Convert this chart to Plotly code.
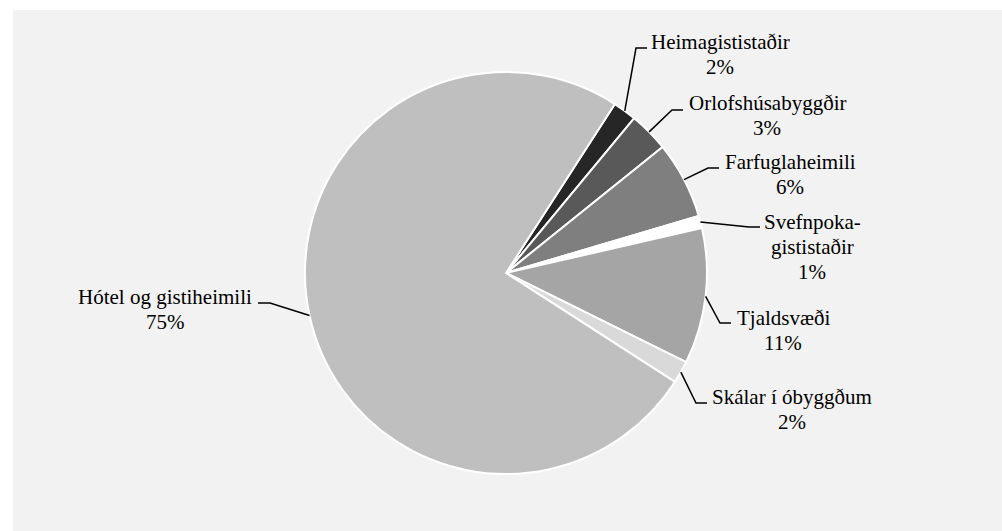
import math
import plotly.graph_objects as go

# Gistinætur eftir tegund gististaðar (hlutfall)
labels = ["Heimagististaðir", "Orlofshúsabyggðir", "Farfuglaheimili",
          "Svefnpoka-<br>gististaðir", "Tjaldsvæði", "Skálar í óbyggðum",
          "Hótel og gistiheimili"]
values = [1.9, 3.2, 6.2, 1.0, 10.9, 1.8, 75.0]
colors = ["#262626", "#595959", "#7f7f7f", "#ffffff", "#a5a5a5", "#d9d9d9", "#bfbfbf"]

W, H = 1002, 531
CX, CY, R = 506, 273, 201
ROTATION = 32.8
LINE_H = 25
FONT = dict(family="Liberation Serif, Times New Roman, serif", size=21, color="black")

# label placement (pixels): text centre x, first line y, end of leader line
label_pos = {
    "Heimagististaðir": (720, 42, 647, 48),
    "Orlofshúsabyggðir": (767, 103, 683, 110),
    "Farfuglaheimili": (790, 162, 719, 168),
    "Svefnpoka-<br>gististaðir": (812, 222, 760, 227),
    "Tjaldsvæði": (783, 318, 731, 323),
    "Skálar í óbyggðum": (792, 397, 707, 403),
    "Hótel og gistiheimili": (165, 297, 258, 303),
}


def px(x):
    return x / W


def py(y):
    return 1 - y / H


fig = go.Figure(go.Pie(
    labels=labels, values=values, sort=False, direction="clockwise",
    rotation=ROTATION, textinfo="none", hoverinfo="label+percent",
    marker=dict(colors=colors, line=dict(color="white", width=2)),
    domain=dict(x=[px(CX - R), px(CX + R)], y=[py(CY + R), py(CY - R)]),
))

shapes = [dict(type="rect", xref="paper", yref="paper", x0=px(13), x1=1, y0=0, y1=py(10),
               fillcolor="#f2f2f2", line=dict(width=0), layer="below")]
annotations = []
total = sum(values)
cum = 0
for lab, v in zip(labels, values):
    mid = math.radians(ROTATION + (cum + v / 2) / total * 360)
    cum += v
    ex, ey = CX + R * math.sin(mid), CY - R * math.cos(mid)
    tx, ty, ax, ay = label_pos[lab]
    elbow = ax - 11 if ax > CX else ax + 12
    shapes.append(dict(type="path", xref="paper", yref="paper",
                       path=f"M {px(ex)},{py(ey)} L {px(elbow)},{py(ay)} L {px(ax)},{py(ay)}",
                       line=dict(color="black", width=1.5)))
    lines = lab.split("<br>") + [f"{round(v / total * 100)}%"]
    for i, t in enumerate(lines):
        annotations.append(dict(text=t, x=px(tx), y=py(ty + i * LINE_H), xref="paper", yref="paper",
                                showarrow=False, xanchor="center", yanchor="middle", font=FONT))

fig.update_layout(
    width=W, height=H, margin=dict(l=0, r=0, t=0, b=0),
    paper_bgcolor="white", showlegend=False,
    shapes=shapes, annotations=annotations,
)

# drop the default body margin so the figure sits in the window corner
fig.write_html("out.html", config={"displayModeBar": False},
               post_script="document.body.style.margin='0';document.body.style.overflow='hidden';")
